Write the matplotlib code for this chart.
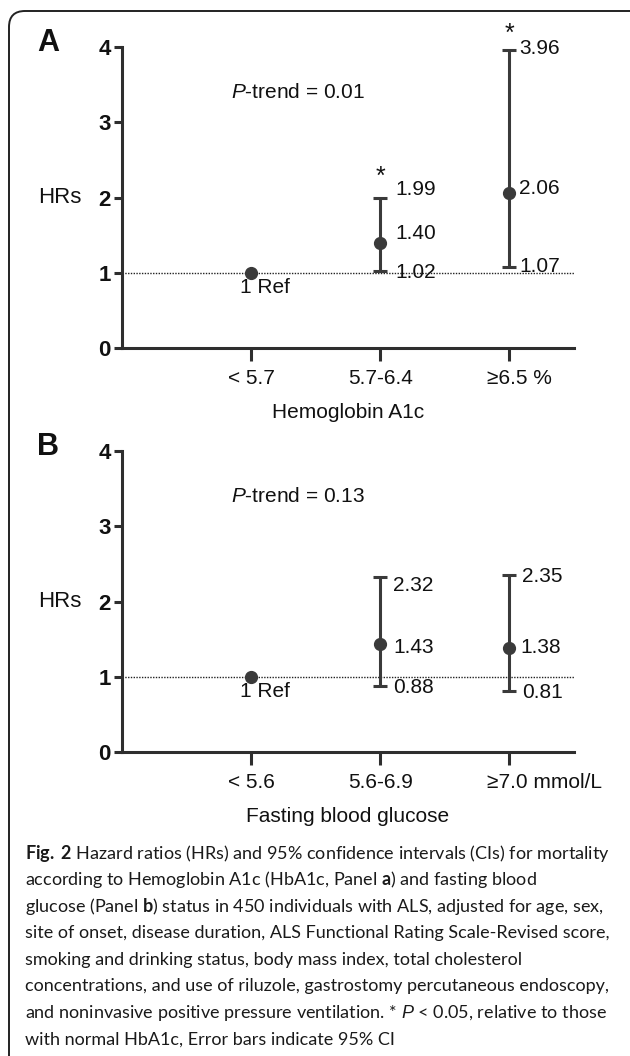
import matplotlib
matplotlib.use("Agg")
import matplotlib.pyplot as plt
import matplotlib.transforms as mtransforms
from matplotlib.patches import FancyBboxPatch

# ------------------------------------------------------------------------------
# Data
# ------------------------------------------------------------------------------
positions = [1, 2, 3]

hba1c_labels = ["< 5.7", "5.7-6.4", "\u22656.5 %"]
hba1c_hr = [1.00, 1.40, 2.06]
hba1c_low = [1.00, 1.02, 1.07]
hba1c_high = [1.00, 1.99, 3.96]
hba1c_sig = [False, True, True]
hba1c_ptrend = "0.01"

fbg_labels = ["< 5.6", "5.6-6.9", "\u22657.0 mmol/L"]
fbg_hr = [1.00, 1.43, 1.38]
fbg_low = [1.00, 0.88, 0.81]
fbg_high = [1.00, 2.32, 2.35]
fbg_sig = [False, False, False]
fbg_ptrend = "0.13"

caption_lines = [
    r"$\mathbf{Fig.}\;\mathbf{2}$ Hazard ratios (HRs) and 95% confidence intervals (CIs) for mortality",
    r"according to Hemoglobin A1c (HbA1c, Panel $\mathbf{a}$) and fasting blood",
    r"glucose (Panel $\mathbf{b}$) status in 450 individuals with ALS, adjusted for age, sex,",
    "site of onset, disease duration, ALS Functional Rating Scale-Revised score,",
    "smoking and drinking status, body mass index, total cholesterol",
    "concentrations, and use of riluzole, gastrostomy percutaneous endoscopy,",
    r"and noninvasive positive pressure ventilation. * $\mathit{P}$ < 0.05, relative to those",
    "with normal HbA1c, Error bars indicate 95% CI",
]

# ------------------------------------------------------------------------------
# Styling
# ------------------------------------------------------------------------------
W, H = 630, 1056
plt.rcParams["font.family"] = ["Liberation Sans", "DejaVu Sans"]
plt.rcParams["mathtext.fontset"] = "custom"
plt.rcParams["mathtext.it"] = "Liberation Sans:italic"
plt.rcParams["mathtext.bf"] = "Lato:bold"
plt.rcParams["mathtext.rm"] = "Lato"

INK = "#111111"
BAR = "#3a3a3a"
FS = 15

# label offsets in pixels (dx, dy) for (upper, hr, lower) per group, panel by panel
offs_a = [None, [(15, 9), (15, 9), (15, -1)], [(10, 2), (10, 4), (10, 1)]]
offs_b = [None, [(13, -8), (13, -3), (13, -2)], [(13, -1), (11, 1), (13, -1)]]
star_a = [None, 21, 16]


def px(v):
    return v * 0.72  # pixels -> points at 100 dpi


fig = plt.figure(figsize=(W / 100, H / 100), dpi=100)

# rounded frame at the top-left, running off the right and bottom edges
frame = FancyBboxPatch((0.09, -0.5), 8.0, (H - 11) / 100 + 0.5,
                       boxstyle="round,pad=0,rounding_size=0.16",
                       transform=fig.dpi_scale_trans, fill=False,
                       edgecolor="#222222", linewidth=1.4)
fig.patches.append(frame)


def panel(bottom_px, letter, labels, hr, low, high, sig, ptrend, xlabel, offs, star):
    left = 122
    ax = fig.add_axes([left / W, 1 - bottom_px / H, 451.7 / W, 301 / H])
    ax.set_xlim(0, 3.5)
    ax.set_ylim(0, 4)
    for s in ["top", "right"]:
        ax.spines[s].set_visible(False)
    for s in ["left", "bottom"]:
        ax.spines[s].set_linewidth(2.2)
        ax.spines[s].set_color("#2e2e2e")
        ax.spines[s].set_capstyle("projecting")
    ax.set_yticks([0, 1, 2, 3, 4])
    ax.set_yticklabels(["0", "1", "2", "3", "4"], fontweight="bold", fontsize=FS + 1)
    ax.tick_params(axis="y", length=6, width=2.2, color="#2e2e2e", pad=2, labelcolor=INK)
    ax.set_xticks(positions)
    ax.set_xticklabels(labels, fontsize=FS)
    ax.tick_params(axis="x", length=9, width=2.2, color="#2e2e2e", pad=6, labelcolor=INK)
    last = ax.get_xticklabels()[-1]
    last.set_ha("left")
    last.set_transform(last.get_transform() +
                       mtransforms.ScaledTranslation(-0.22, 0, fig.dpi_scale_trans))

    ax.axhline(1, color="#222222", linestyle=(0, (1, 1)), linewidth=1.0, zorder=1)

    for i, x in enumerate(positions):
        if i > 0:
            ax.errorbar(x, hr[i], yerr=[[hr[i] - low[i]], [high[i] - hr[i]]],
                        fmt="o", color=BAR, ecolor=BAR, elinewidth=2.2,
                        capsize=5, capthick=2.2, markersize=8.5, zorder=3)
            for val, (dx, dy) in zip([high[i], hr[i], low[i]], offs[i]):
                ax.annotate(f"{val:.2f}", (x, val), xytext=(px(dx), px(dy)),
                            textcoords="offset points", ha="left", va="center",
                            fontsize=FS, color=INK)
            if sig[i]:
                ax.annotate("*", (x, high[i]), xytext=(0, px(star[i])),
                            textcoords="offset points", ha="center", va="center",
                            fontsize=FS + 3, color=INK)
        else:
            ax.plot(x, hr[i], "o", color=BAR, markersize=8.5, zorder=3)
            ax.annotate("1 Ref", (x, hr[i]), xytext=(px(14), px(-15)),
                        textcoords="offset points", ha="center", va="center",
                        fontsize=FS, color=INK)

    ax.set_ylabel("HRs", rotation=0, ha="right", va="center", fontsize=FS + 1, color=INK)
    ax.yaxis.set_label_coords(-40 / 451.7, 0.5)
    ax.set_xlabel(xlabel, fontsize=FS, color=INK, va="center")
    ax.xaxis.set_label_coords(0.5, -65 / 301)

    ax.text(0.241, 0.85, r"$\mathit{P}$-trend = " + ptrend, transform=ax.transAxes,
            ha="left", va="center", fontsize=FS, color=INK)
    fig.text(48 / W, 1 - (bottom_px - 305) / H, letter, ha="center", va="center",
             fontsize=22, fontweight="bold", color=INK)
    return ax


panel(348, "A", hba1c_labels, hba1c_hr, hba1c_low, hba1c_high, hba1c_sig,
      hba1c_ptrend, "Hemoglobin A1c", offs_a, star_a)
panel(752, "B", fbg_labels, fbg_hr, fbg_low, fbg_high, fbg_sig,
      fbg_ptrend, "Fasting blood glucose", offs_b, star_a)

for k, line in enumerate(caption_lines):
    fig.text(25 / W, 1 - (853 + k * 26.7) / H, line, ha="left", va="center",
             fontsize=13, family="Lato", color="#1a1a1a")

fig.savefig("out.png", dpi=100)
